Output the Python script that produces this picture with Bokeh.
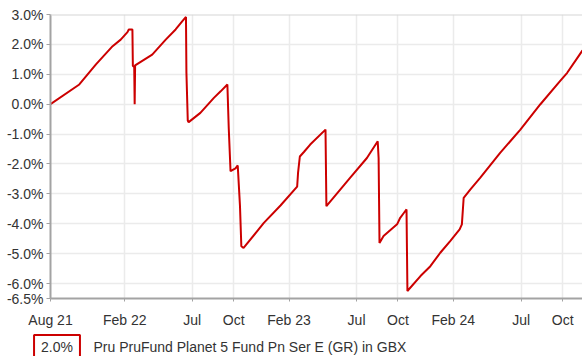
from bokeh.plotting import figure
from bokeh.layouts import column
from bokeh.models import FixedTicker, Span, Label, Range1d, PrintfTickFormatter
from bokeh.embed import file_html
from bokeh.resources import INLINE
import pandas as pd

# ---- data ----
dates = [
    "2021-08-20", "2021-10-23", "2021-11-29", "2022-01-05", "2022-01-23", "2022-02-07",
    "2022-02-10", "2022-02-18", "2022-02-19", "2022-02-22", "2022-02-23", "2022-02-24",
    "2022-04-03", "2022-05-03", "2022-05-25", "2022-06-09", "2022-06-17", "2022-06-18",
    "2022-06-21", "2022-06-23", "2022-07-19", "2022-08-18", "2022-09-02", "2022-09-17",
    "2022-09-20", "2022-09-24", "2022-10-05", "2022-10-10", "2022-10-15", "2022-10-18",
    "2022-10-23", "2022-12-07", "2023-01-13", "2023-02-19", "2023-02-21", "2023-02-25",
    "2023-03-06", "2023-03-20", "2023-04-23", "2023-04-25", "2023-06-17", "2023-07-24",
    "2023-08-17", "2023-08-19", "2023-08-21", "2023-08-30", "2023-09-29", "2023-10-06",
    "2023-10-14", "2023-10-20", "2023-10-22", "2023-11-20", "2023-12-12", "2024-01-03",
    "2024-01-25", "2024-02-15", "2024-02-20", "2024-02-24", "2024-03-10", "2024-04-01",
    "2024-05-15", "2024-06-29", "2024-08-12", "2024-09-25", "2024-10-11", "2024-11-14",
]
values = [
    0.00, 0.66, 1.33, 1.94, 2.16, 2.41,
    2.50, 2.50, 1.28, 1.25, 0.00, 1.30,
    1.66, 2.16, 2.50, 2.78, 2.92, 1.05,
    -0.55, -0.60, -0.29, 0.21, 0.43, 0.66,
    -0.79, -2.24, -2.15, -2.05, -3.41, -4.75,
    -4.81, -3.97, -3.39, -2.76, -2.30, -1.75,
    -1.60, -1.35, -0.85, -3.41, -2.46, -1.80,
    -1.24, -1.80, -4.64, -4.41, -4.02, -3.80,
    -3.64, -3.52, -6.25, -5.75, -5.42, -4.97,
    -4.58, -4.19, -4.02, -3.13, -2.85, -2.46,
    -1.63, -0.85, -0.01, 0.77, 1.05, 1.80,
]

x_tick_dates = ["2021-08-20", "2022-02-01", "2022-07-01", "2022-10-01", "2023-02-01",
                "2023-07-01", "2023-10-01", "2024-02-01", "2024-07-01", "2024-10-01"]
x_tick_labels = ["Aug 21", "Feb 22", "Jul", "Oct", "Feb 23", "Jul", "Oct", "Feb 24", "Jul", "Oct"]
y_ticks = [3.0, 2.0, 1.0, 0.0, -1.0, -2.0, -3.0, -4.0, -5.0, -6.0, -6.5]
x_start, x_end = "2021-08-20", "2024-11-14"
y_start, y_end = -6.5, 3.0

legend_value = "2.0%"
series_name = "Pru PruFund Planet 5 Fund Pn Ser E (GR) in GBX"

# ---- layout constants ----
W = 582
H_MAIN, H_LEG = 330, 26
B_LEFT, B_RIGHT, B_TOP = 50, 0, 14
FRAME_H = 284
B_BOTTOM = H_MAIN - B_TOP - FRAME_H

FONT = "Liberation Sans"
TEXT_COL = "#333333"
RED = "#cc0000"

xs = pd.to_datetime(dates)
tick_ms = [float(pd.Timestamp(d).value // 10**6) for d in x_tick_dates]

# ---- main chart ----
p = figure(width=W, height=H_MAIN, x_axis_type="datetime",
           output_backend="svg", toolbar_location=None, frame_align=False,
           min_border_left=B_LEFT, min_border_right=B_RIGHT,
           min_border_top=B_TOP, min_border_bottom=B_BOTTOM)
p.x_range = Range1d(pd.Timestamp(x_start), pd.Timestamp(x_end))
p.y_range = Range1d(y_start, y_end)
p.outline_line_color = None
p.background_fill_color = "white"
p.border_fill_color = "white"

p.xgrid.ticker = FixedTicker(ticks=tick_ms)
p.ygrid.ticker = FixedTicker(ticks=y_ticks)
p.xgrid.grid_line_color = "#ebebeb"
p.ygrid.grid_line_color = "#ebebeb"
p.xgrid.grid_line_width = 1.5
p.ygrid.grid_line_width = 1.5

p.add_layout(Span(location=y_end, dimension="width", line_color="#d6d6d6", line_width=2))

p.line(xs, values, line_color=RED, line_width=2)

p.xaxis.ticker = FixedTicker(ticks=tick_ms)
p.xaxis.major_label_overrides = {t: l for t, l in zip(tick_ms, x_tick_labels)}
p.yaxis.ticker = FixedTicker(ticks=y_ticks)
p.yaxis.formatter = PrintfTickFormatter(format="%.1f%%")

for ax in (p.xaxis[0], p.yaxis[0]):
    ax.axis_line_color = "#a3a3a3"
    ax.axis_line_width = 2
    ax.major_tick_line_color = "#a3a3a3"
    ax.major_tick_line_width = 1
    ax.major_tick_in = 0
    ax.minor_tick_line_color = None
    ax.major_label_text_font = FONT
    ax.major_label_text_font_size = "14px"
    ax.major_label_text_color = TEXT_COL
p.yaxis.major_tick_out = 4
p.yaxis.major_label_standoff = 3
p.xaxis.major_tick_out = 3
p.xaxis.major_label_standoff = 10

# ---- legend strip (ranges in pixels) ----
leg = figure(width=W, height=H_LEG, output_backend="svg", toolbar_location=None,
             frame_align=False, x_axis_location=None, y_axis_location=None,
             min_border_left=0, min_border_right=0, min_border_top=0, min_border_bottom=0)
leg.x_range = Range1d(0, W)
leg.y_range = Range1d(0, H_LEG)
leg.outline_line_color = None
leg.grid.visible = False
leg.background_fill_color = "white"
leg.border_fill_color = "white"

LEG_MID = H_LEG - 16.5   # text middle, measured from the strip's top
leg.add_layout(Label(x=56.5, y=LEG_MID, text=legend_value,
                     text_align="center", text_baseline="middle",
                     text_font=FONT, text_font_size="14px", text_color=TEXT_COL,
                     border_line_color=RED, border_line_width=2,
                     background_fill_color="white",
                     padding=dict(left=7, right=7, top=4, bottom=4)))
leg.add_layout(Label(x=93, y=LEG_MID, text=series_name,
                     text_align="left", text_baseline="middle",
                     text_font=FONT, text_font_size="14px", text_color=TEXT_COL))

layout = column(p, leg, spacing=0)
open("out.html", "w").write(file_html(layout, INLINE))
